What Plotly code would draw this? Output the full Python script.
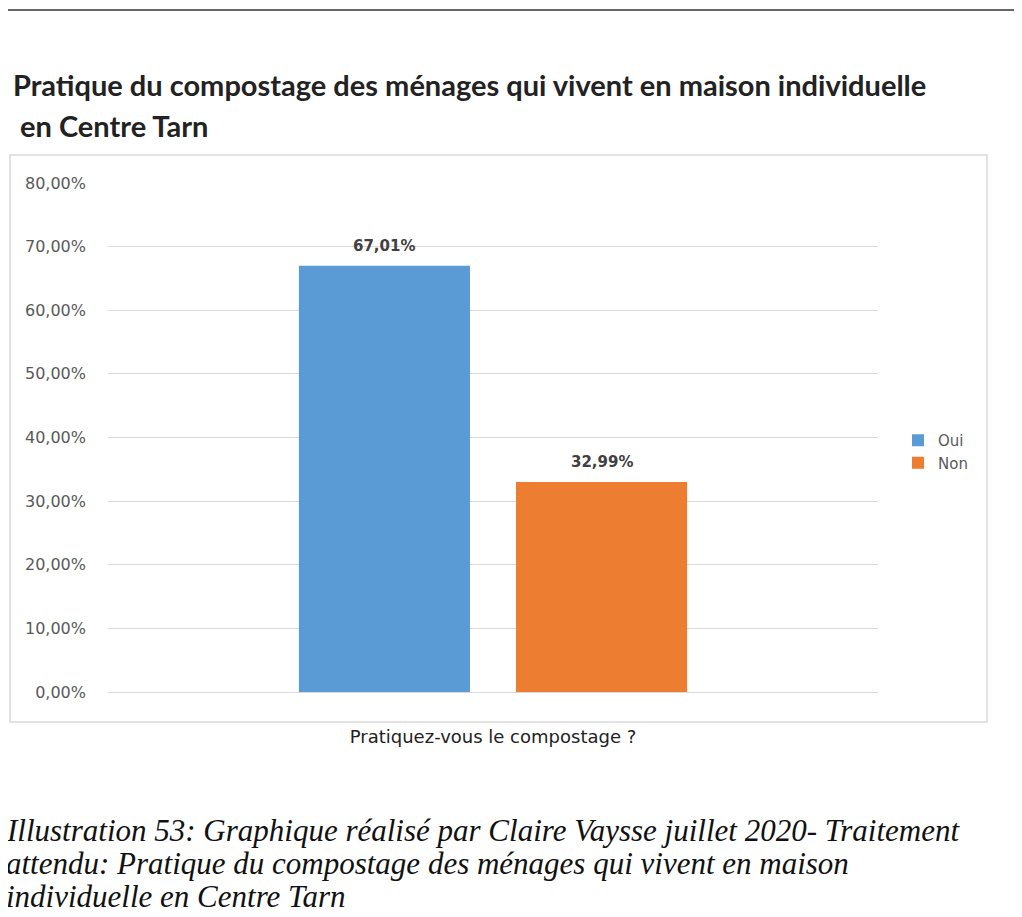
import plotly.graph_objects as go

# donnees
categorie = ["Pratiquez-vous le compostage ?"]
series = ["Oui", "Non"]
valeurs = [0.6701, 0.3299]
couleurs = ["#5b9bd5", "#ed7d31"]

titre = ["Pratique du compostage des ménages qui vivent en maison individuelle",
         "\u00a0en Centre Tarn"]
legende = ["Illustration 53: Graphique réalisé par Claire Vaysse juillet 2020- Traitement",
           "attendu: Pratique du compostage des ménages qui vivent en maison",
           "individuelle en Centre Tarn"]

O = 8                       # marge du body html
W, H = 1022 - O, 917 - O
L, R, T, B = 108, 878, 183, 692   # zone de trace (pixels de la page)
BARGAP, GROUPGAP = 0.436, 0.212


def px(x):
    return (x - L) / (R - L)


def py(y):
    return (B - y) / (B - T)


fig = go.Figure()
for nom, v, c in zip(series, valeurs, couleurs):
    fig.add_trace(go.Bar(
        x=categorie, y=[v], name=nom,
        marker=dict(color=c, line=dict(width=0)),
    ))

# etiquettes de donnees au-dessus des barres
slot = (1 - BARGAP) * (R - L) / len(series)
annots = []
for i, v in enumerate(valeurs):
    annots.append(dict(
        x=categorie[0], y=v, xref="x", yref="y",
        xshift=(i - (len(series) - 1) / 2) * slot, yshift=9,
        text=f"{v*100:.2f}%".replace(".", ","), showarrow=False,
        xanchor="center", yanchor="bottom",
        font=dict(family="DejaVu Sans", size=15, color="#404040", weight="bold")))

for ligne, yc in zip(titre, [85, 125]):
    annots.append(dict(text=ligne, xref="paper", yref="paper", x=px(11), y=py(yc),
                       xanchor="left", yanchor="middle", showarrow=False,
                       font=dict(family="Lato", size=29, color="#222222", weight="bold")))

for ligne, yc in zip(legende, [830, 864, 896]):
    annots.append(dict(text=ligne, xref="paper", yref="paper", x=px(4), y=py(yc),
                       xanchor="left", yanchor="middle", showarrow=False,
                       font=dict(family="Liberation Serif", size=31, color="#111111",
                                 style="italic")))

fig.update_layout(
    width=W, height=H,
    margin=dict(l=L - O, r=W - (R - O), t=T - O, b=H - (B - O)),
    paper_bgcolor="white", plot_bgcolor="white",
    barmode="group", bargap=BARGAP, bargroupgap=GROUPGAP,
    font=dict(family="DejaVu Sans", color="#595959"),
    showlegend=True,
    legend=dict(x=px(898), y=py(424), xanchor="left", yanchor="top",
                font=dict(family="DejaVu Sans", size=15, color="#595959"),
                itemwidth=30, tracegroupgap=8, bgcolor="rgba(0,0,0,0)"),
    yaxis=dict(range=[0, 0.8], dtick=0.1, tickformat=".2%",
               showgrid=True, gridcolor="#d9d9d9", gridwidth=1,
               zeroline=True, zerolinecolor="#d9d9d9", zerolinewidth=1,
               showline=False, ticks="", ticklabelstandoff=21,
               tickfont=dict(family="DejaVu Sans", size=16, color="#595959")),
    xaxis=dict(showline=False, ticks="", showgrid=False,
               ticklabelstandoff=32,
               tickfont=dict(family="DejaVu Sans", size=18, color="#222222")),
    separators=", ",
    shapes=[
        dict(type="rect", xref="paper", yref="paper",
             x0=px(10), x1=px(987), y0=py(722), y1=py(155),
             line=dict(color="#d9d9d9", width=1.5), layer="below"),
        dict(type="line", xref="paper", yref="paper",
             x0=px(0), x1=px(1022), y0=py(10), y1=py(10),
             line=dict(color="#333333", width=1.5)),
    ],
    annotations=annots,
)

fig.write_html("out.html")
